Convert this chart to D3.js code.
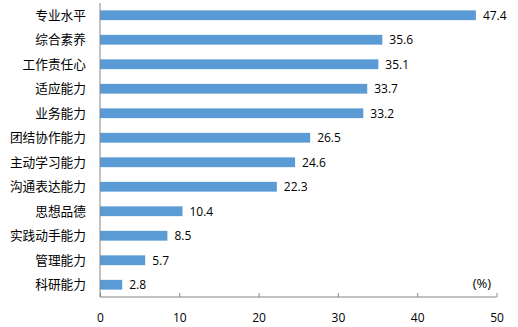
<!DOCTYPE html>
<html>
<head>
<meta charset="utf-8">
<script src="https://cdn.jsdelivr.net/npm/d3@7"></script>
<style>
  body { margin: 0; background: #fff; }
  svg { display: block; }
</style>
</head>
<body>
<svg id="chart" width="518" height="327"></svg>
<script>
const categories = ["专业水平", "综合素养", "工作责任心", "适应能力", "业务能力", "团结协作能力",
  "主动学习能力", "沟通表达能力", "思想品德", "实践动手能力", "管理能力", "科研能力"];
const values = [47.4, 35.6, 35.1, 33.7, 33.2, 26.5, 24.6, 22.3, 10.4, 8.5, 5.7, 2.8];
const xTicks = [0, 10, 20, 30, 40, 50];

(function drawChart() {
  const svg = d3.select("#chart");
  const plotLeft = 100, plotRight = 496.5, plotTop = 3, plotBottom = 297;
  const axisColor = "#868686";
  const cjkFont = "'Noto Sans CJK SC', sans-serif";
  const numFont = "'Open Sans', 'Liberation Sans', sans-serif";

  const x = d3.scaleLinear().domain([0, 50]).range([plotLeft, plotRight]);
  const y = d3.scaleBand().domain(categories).range([plotTop, plotBottom]).paddingInner(0.6).paddingOuter(0.3);

  // bars
  svg.append("g").selectAll("rect")
    .data(values)
    .join("rect")
    .attr("x", x(0))
    .attr("y", (d, i) => y(categories[i]))
    .attr("width", d => x(d) - x(0))
    .attr("height", y.bandwidth())
    .attr("fill", "#5B9BD5");

  // value labels
  svg.append("g").selectAll("text")
    .data(values)
    .join("text")
    .attr("x", d => x(d) + 7)
    .attr("y", (d, i) => y(categories[i]) + y.bandwidth() / 2)
    .attr("dy", "0.36em")
    .attr("font-family", numFont)
    .attr("font-size", 12)
    .attr("fill", "#000")
    .text(d => d.toFixed(1));

  // category labels
  svg.append("g").selectAll("text")
    .data(categories)
    .join("text")
    .attr("x", 86)
    .attr("y", d => y(d) + y.bandwidth() / 2)
    .attr("dy", "0.36em")
    .attr("text-anchor", "end")
    .attr("font-family", cjkFont)
    .attr("font-size", 12.7)
    .attr("fill", "#000")
    .text(d => d);

  // bottom axis with inward ticks
  const xAxis = svg.append("g")
    .attr("transform", `translate(0,${plotBottom})`)
    .call(d3.axisBottom(x).tickValues(xTicks).tickSize(-4).tickPadding(16).tickFormat(d3.format("d")));
  xAxis.select(".domain").attr("stroke", axisColor).attr("d", `M${plotLeft},0H${plotRight}`);
  xAxis.selectAll(".tick line").attr("stroke", axisColor);
  xAxis.selectAll(".tick text")
    .attr("font-family", numFont)
    .attr("font-size", 12)
    .attr("fill", "#000");

  // left axis line
  svg.append("line")
    .attr("x1", plotLeft).attr("x2", plotLeft)
    .attr("y1", plotTop).attr("y2", plotBottom)
    .attr("stroke", axisColor);

  // unit label
  svg.append("text")
    .attr("x", 482)
    .attr("y", 283)
    .attr("dy", "0.36em")
    .attr("text-anchor", "middle")
    .attr("font-family", numFont)
    .attr("font-size", 13)
    .attr("fill", "#000")
    .text("(%)");
})();
</script>
</body>
</html>
